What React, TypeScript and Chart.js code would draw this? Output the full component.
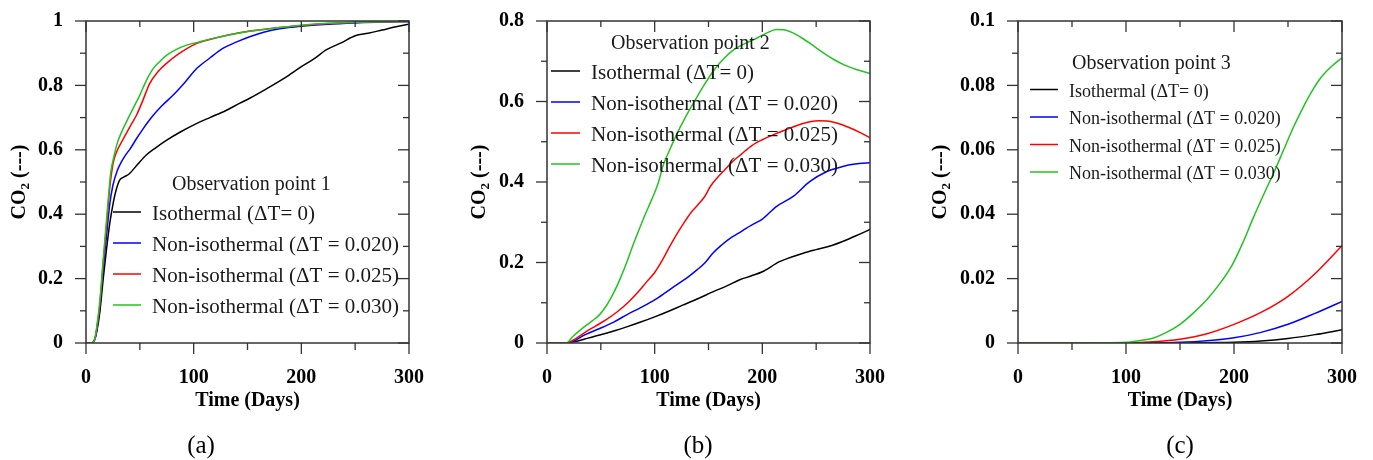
import React, { useEffect, useRef } from 'react';
import { Chart, registerables } from 'chart.js';

Chart.register(...registerables);

// ---------- series labels ----------
const SERIES_LABELS = [
  'Isothermal (ΔT= 0)',
  'Non-isothermal (ΔT = 0.020)',
  'Non-isothermal (ΔT = 0.025)',
  'Non-isothermal (ΔT = 0.030)',
];

// ---------- tick labels ----------
const X_TICKS = [0, 100, 200, 300];
const X_TICK_LABELS = ['0', '100', '200', '300'];
const Y1_TICKS = [0, 0.2, 0.4, 0.6, 0.8, 1];
const Y1_TICK_LABELS = ['0', '0.2', '0.4', '0.6', '0.8', '1'];
const Y2_TICKS = [0, 0.2, 0.4, 0.6, 0.8];
const Y2_TICK_LABELS = ['0', '0.2', '0.4', '0.6', '0.8'];
const Y3_TICKS = [0, 0.02, 0.04, 0.06, 0.08, 0.1];
const Y3_TICK_LABELS = ['0', '0.02', '0.04', '0.06', '0.08', '0.1'];

// ---------- Observation point 1 ----------
const p1IsoDays = [0, 5, 8, 10, 13, 16, 19, 22, 25, 28, 31.5, 35, 40, 48, 56, 65, 75, 88, 103, 115, 130, 143, 152, 168, 185, 200, 212, 223, 237, 250, 262, 275, 288, 300];
const p1IsoCO2 = [0, 0, 0.01, 0.035, 0.1, 0.2, 0.29, 0.37, 0.43, 0.475, 0.507, 0.515, 0.525, 0.555, 0.584, 0.607, 0.63, 0.656, 0.682, 0.7, 0.722, 0.745, 0.76, 0.79, 0.824, 0.858, 0.883, 0.91, 0.932, 0.954, 0.962, 0.972, 0.982, 0.99];
const p1Dt020Days = [0, 5, 8, 10, 13, 16, 19, 22, 25, 29, 33, 37, 41, 47, 53, 60, 70, 81, 92, 103, 115, 127, 140, 152, 165, 180, 200, 225, 250, 275, 300];
const p1Dt020CO2 = [0, 0, 0.01, 0.04, 0.115, 0.23, 0.33, 0.43, 0.49, 0.535, 0.563, 0.585, 0.603, 0.635, 0.665, 0.697, 0.735, 0.77, 0.81, 0.853, 0.885, 0.915, 0.935, 0.951, 0.965, 0.976, 0.984, 0.99, 0.994, 0.997, 0.998];
const p1Dt025Days = [0, 5, 8, 10, 13, 16, 19, 22, 25, 28.5, 35, 41, 47, 53, 59, 67, 75, 87, 100, 112, 125, 140, 152, 175, 200, 225, 250, 275, 300];
const p1Dt025CO2 = [0, 0, 0.01, 0.045, 0.125, 0.25, 0.36, 0.48, 0.555, 0.594, 0.636, 0.673, 0.708, 0.755, 0.805, 0.843, 0.869, 0.9, 0.926, 0.94, 0.951, 0.962, 0.969, 0.978, 0.986, 0.992, 0.996, 0.998, 0.999];
const p1Dt030Days = [0, 5, 8, 10, 13, 16, 19, 21, 23, 26, 29, 33, 38, 44, 50, 56, 62.5, 69, 75, 84, 93.5, 105, 118, 135, 152, 175, 200, 225, 250, 275, 300];
const p1Dt030CO2 = [0, 0, 0.01, 0.05, 0.135, 0.26, 0.38, 0.46, 0.53, 0.58, 0.62, 0.655, 0.69, 0.73, 0.77, 0.815, 0.853, 0.876, 0.894, 0.912, 0.925, 0.935, 0.946, 0.958, 0.968, 0.978, 0.987, 0.993, 0.996, 0.998, 0.999];

// ---------- Observation point 2 ----------
const p2IsoDays = [0, 18, 25, 35, 49, 62, 74, 87, 100, 113, 126, 140, 154, 167, 179, 190, 200, 216, 238, 250, 263, 278, 290, 300];
const p2IsoCO2 = [0, 0, 0.003, 0.01, 0.02, 0.03, 0.04, 0.052, 0.065, 0.079, 0.094, 0.11, 0.127, 0.142, 0.157, 0.167, 0.177, 0.202, 0.223, 0.232, 0.241, 0.256, 0.27, 0.282];
const p2Dt020Days = [0, 18, 25, 35, 49, 62, 74, 87, 100, 110, 120, 130, 139, 147, 154, 162, 170, 178, 185, 193, 200, 213, 229, 244, 260, 270, 280, 290, 300];
const p2Dt020CO2 = [0, 0, 0.005, 0.02, 0.036, 0.052, 0.07, 0.088, 0.107, 0.125, 0.144, 0.162, 0.181, 0.2, 0.223, 0.243, 0.26, 0.273, 0.285, 0.297, 0.308, 0.339, 0.365, 0.401, 0.426, 0.435, 0.442, 0.446, 0.448];
const p2Dt025Days = [0, 18, 25, 35, 45, 55, 65, 75, 85, 92, 100, 107, 113, 120, 127, 134, 140, 146, 152, 158, 165, 172, 180, 190, 200, 210, 220, 235, 252, 262, 270, 280, 290, 300];
const p2Dt025CO2 = [0, 0, 0.008, 0.026, 0.042, 0.058, 0.077, 0.1, 0.128, 0.15, 0.175, 0.205, 0.235, 0.268, 0.298, 0.325, 0.343, 0.362, 0.39, 0.41, 0.43, 0.45, 0.468, 0.49, 0.505, 0.517, 0.528, 0.543, 0.552, 0.551, 0.546, 0.536, 0.524, 0.51];
const p2Dt030Days = [0, 18, 24, 30, 36, 42, 48, 55, 62, 68, 74, 80, 86, 91, 97, 103, 108, 114, 120, 128, 136, 145, 154, 163, 172, 180, 188, 196, 204, 213, 220, 228, 236, 245, 255, 266, 276, 288, 300];
const p2Dt030CO2 = [0, 0, 0.016, 0.03, 0.043, 0.055, 0.068, 0.092, 0.125, 0.16, 0.2, 0.244, 0.285, 0.318, 0.355, 0.395, 0.442, 0.48, 0.516, 0.558, 0.596, 0.637, 0.674, 0.703, 0.726, 0.739, 0.749, 0.759, 0.77, 0.779, 0.778, 0.771, 0.759, 0.743, 0.724, 0.705, 0.691, 0.679, 0.67];

// ---------- Observation point 3 ----------
const p3IsoDays = [0, 150, 175, 200, 225, 250, 275, 300];
const p3IsoCO2 = [0, 0, 0.0001, 0.0002, 0.0006, 0.0014, 0.0026, 0.0041];
const p3Dt020Days = [0, 125, 150, 175, 200, 225, 250, 275, 300];
const p3Dt020CO2 = [0, 0, 0.0002, 0.0007, 0.0016, 0.0033, 0.0058, 0.0092, 0.0129];
const p3Dt025Days = [0, 100, 125, 150, 175, 200, 225, 250, 275, 300];
const p3Dt025CO2 = [0, 0.0001, 0.0004, 0.0012, 0.0029, 0.0058, 0.0095, 0.0145, 0.0215, 0.0302];
const p3Dt030Days = [0, 50, 100, 112, 125, 137, 150, 162, 175, 187, 198, 208, 218, 228, 237, 246, 255, 263, 271, 280, 290, 300];
const p3Dt030CO2 = [0, 0, 0.0002, 0.0007, 0.0015, 0.0032, 0.0058, 0.0092, 0.0135, 0.0185, 0.024, 0.031, 0.039, 0.0465, 0.053, 0.06, 0.067, 0.0725, 0.0775, 0.0822, 0.0858, 0.0886];

// ---------- styles ----------
const SERIES_COLORS = ['#000000', '#0000ff', '#ff0000', '#22c322'];
const SERIF = "'Liberation Serif', 'Times New Roman', serif";
const CANVAS_H = 460;
const PLOT_TOP = 21;
const PLOT_BOTTOM = 343;

type PanelCfg = {
  left: number;
  width: number;
  plotLeft: number;
  plotRight: number;
  yMax: number;
  yTicks: number[];
  yLabels: string[];
  yMinor: number;
  series: [number[], number[]][];
  legendTitle: string;
  caption: string;
  deco: any;
};

const PANELS: PanelCfg[] = [
  {
    left: 0, width: 460, plotLeft: 86, plotRight: 409,
    yMax: 1, yTicks: Y1_TICKS, yLabels: Y1_TICK_LABELS, yMinor: 0.1,
    series: [[p1IsoDays, p1IsoCO2], [p1Dt020Days, p1Dt020CO2], [p1Dt025Days, p1Dt025CO2], [p1Dt030Days, p1Dt030CO2]],
    legendTitle: 'Observation point 1', caption: '(a)',
    deco: {
      titleX: 172, titleY: 190, titleSize: 20,
      lineX0: 113, lineX1: 141, textX: 152, rowY0: 212, rowDy: 31, entrySize: 21, baseOff: 8,
      yTitleX: 25, captionX: 201,
    },
  },
  {
    left: 460, width: 460, plotLeft: 87, plotRight: 410,
    yMax: 0.8, yTicks: Y2_TICKS, yLabels: Y2_TICK_LABELS, yMinor: 0.1,
    series: [[p2IsoDays, p2IsoCO2], [p2Dt020Days, p2Dt020CO2], [p2Dt025Days, p2Dt025CO2], [p2Dt030Days, p2Dt030CO2]],
    legendTitle: 'Observation point 2', caption: '(b)',
    deco: {
      titleX: 151, titleY: 49, titleSize: 20,
      lineX0: 91, lineX1: 120, textX: 131, rowY0: 71, rowDy: 31, entrySize: 21, baseOff: 8,
      yTitleX: 25, captionX: 238,
    },
  },
  {
    left: 920, width: 453, plotLeft: 98, plotRight: 422,
    yMax: 0.1, yTicks: Y3_TICKS, yLabels: Y3_TICK_LABELS, yMinor: 0.01,
    series: [[p3IsoDays, p3IsoCO2], [p3Dt020Days, p3Dt020CO2], [p3Dt025Days, p3Dt025CO2], [p3Dt030Days, p3Dt030CO2]],
    legendTitle: 'Observation point 3', caption: '(c)',
    deco: {
      titleX: 152, titleY: 69, titleSize: 20,
      lineX0: 110, lineX1: 138, textX: 149, rowY0: 89.5, rowDy: 27.5, entrySize: 18, baseOff: 7,
      yTitleX: 26, captionX: 260,
    },
  },
];

const decorPlugin = {
  id: 'decor',
  afterDraw(chart: any, _args: any, opts: any) {
    const { ctx, chartArea: ca } = chart;
    const xs = chart.scales.x;
    const ys = chart.scales.y;
    const line = (x0: number, y0: number, x1: number, y1: number) => {
      ctx.beginPath();
      ctx.moveTo(x0, y0);
      ctx.lineTo(x1, y1);
      ctx.stroke();
    };
    ctx.save();
    // frame
    ctx.strokeStyle = '#333333';
    ctx.lineWidth = 1.5;
    ctx.strokeRect(ca.left, ca.top, ca.right - ca.left, ca.bottom - ca.top);
    // ticks
    ctx.lineWidth = 1.3;
    const nx = Math.round((xs.max - xs.min) / opts.xMinor);
    for (let i = 0; i <= nx; i++) {
      const v = xs.min + i * opts.xMinor;
      const major = i % 2 === 0;
      const px = xs.getPixelForValue(v);
      line(px, ca.bottom, px, ca.bottom + (major ? 11 : 7));
      line(px, ca.top, px, ca.top + (major ? 11 : 6));
    }
    const ny = Math.round((ys.max - ys.min) / opts.yMinor);
    for (let i = 0; i <= ny; i++) {
      const v = ys.min + i * opts.yMinor;
      const major = i % 2 === 0;
      const py = ys.getPixelForValue(v);
      line(ca.left - (major ? 11 : 6), py, ca.left, py);
      line(ca.right - (major ? 11 : 6), py, ca.right, py);
    }
    // legend
    const d = opts.d;
    ctx.fillStyle = '#1a1a1a';
    ctx.textAlign = 'left';
    ctx.textBaseline = 'alphabetic';
    ctx.font = `${d.titleSize}px ${SERIF}`;
    ctx.fillText(opts.legendTitle, d.titleX, d.titleY);
    ctx.font = `${d.entrySize}px ${SERIF}`;
    chart.data.datasets.forEach((ds: any, i: number) => {
      const y = d.rowY0 + i * d.rowDy;
      ctx.strokeStyle = ds.borderColor;
      ctx.lineWidth = 1.5;
      line(d.lineX0, y, d.lineX1, y);
      ctx.fillStyle = '#1a1a1a';
      ctx.fillText(ds.label, d.textX, y + d.baseOff);
    });
    // x title
    ctx.fillStyle = '#000';
    ctx.font = `bold 20px ${SERIF}`;
    ctx.textAlign = 'center';
    ctx.fillText('Time (Days)', (ca.left + ca.right) / 2, 406);
    // caption
    ctx.font = `25px ${SERIF}`;
    ctx.fillText(opts.caption, d.captionX, 453);
    // y title (rotated)
    ctx.save();
    ctx.translate(d.yTitleX, (ca.top + ca.bottom) / 2);
    ctx.rotate(-Math.PI / 2);
    ctx.textAlign = 'left';
    ctx.font = `bold 20px ${SERIF}`;
    const w1 = ctx.measureText('CO').width;
    const w3 = ctx.measureText(' (---)').width;
    ctx.font = `bold 13px ${SERIF}`;
    const w2 = ctx.measureText('2').width;
    const start = -(w1 + w2 + w3) / 2;
    ctx.font = `bold 20px ${SERIF}`;
    ctx.fillText('CO', start, 0);
    ctx.font = `bold 13px ${SERIF}`;
    ctx.fillText('2', start + w1, 4);
    ctx.font = `bold 20px ${SERIF}`;
    ctx.fillText(' (---)', start + w1 + w2, 0);
    ctx.restore();
    ctx.restore();
  },
};

function Panel({ cfg }: { cfg: PanelCfg }) {
  const ref = useRef<HTMLCanvasElement | null>(null);
  useEffect(() => {
    if (!ref.current) return;
    const chart = new Chart(ref.current, {
      type: 'line',
      data: {
        datasets: cfg.series.map(([days, vals], i) => ({
          label: SERIES_LABELS[i],
          data: days.map((d, k) => ({ x: d, y: vals[k] })),
          borderColor: SERIES_COLORS[i],
          backgroundColor: SERIES_COLORS[i],
          borderWidth: 1.5,
          pointRadius: 0,
          fill: false,
          cubicInterpolationMode: 'monotone',
          order: 3 - i,
        })),
      },
      options: {
        animation: false,
        responsive: false,
        devicePixelRatio: 1,
        events: [],
        layout: { padding: { top: PLOT_TOP, right: cfg.width - cfg.plotRight, left: 0, bottom: 0 } },
        plugins: {
          legend: { display: false },
          tooltip: { enabled: false },
          title: { display: false },
          decor: { d: cfg.deco, legendTitle: cfg.legendTitle, caption: cfg.caption, xMinor: 50, yMinor: cfg.yMinor },
        } as any,
        scales: {
          x: {
            type: 'linear',
            min: 0,
            max: 300,
            grid: { display: false, drawTicks: true, tickLength: 23 },
            border: { display: false },
            afterBuildTicks: (s: any) => { s.ticks = X_TICKS.map((v) => ({ value: v })); },
            afterFit: (s: any) => { s.height = CANVAS_H - PLOT_BOTTOM; },
            ticks: {
              padding: 0,
              color: '#000',
              autoSkip: false,
              maxRotation: 0,
              font: { family: SERIF, size: 20, weight: 'bold' },
              callback: (_v: any, i: number) => X_TICK_LABELS[i],
            },
          },
          y: {
            type: 'linear',
            min: 0,
            max: cfg.yMax,
            grid: { display: false, drawTicks: true, tickLength: 23 },
            border: { display: false },
            afterBuildTicks: (s: any) => { s.ticks = cfg.yTicks.map((v) => ({ value: v })); },
            afterFit: (s: any) => { s.width = cfg.plotLeft; },
            ticks: {
              padding: 0,
              color: '#000',
              autoSkip: false,
              font: { family: SERIF, size: 20, weight: 'bold' },
              callback: (_v: any, i: number) => cfg.yLabels[i],
            },
          },
        },
      } as any,
      plugins: [decorPlugin],
    });
    return () => chart.destroy();
  }, [cfg]);
  return (
    <canvas
      ref={ref}
      width={cfg.width}
      height={CANVAS_H}
      style={{ position: 'absolute', left: cfg.left, top: 0, width: cfg.width, height: CANVAS_H }}
    />
  );
}

export default function App() {
  return (
    <div style={{ position: 'fixed', left: 0, top: 0, width: 1373, height: 460, background: '#ffffff' }}>
      {PANELS.map((p) => (
        <Panel key={p.caption} cfg={p} />
      ))}
    </div>
  );
}
